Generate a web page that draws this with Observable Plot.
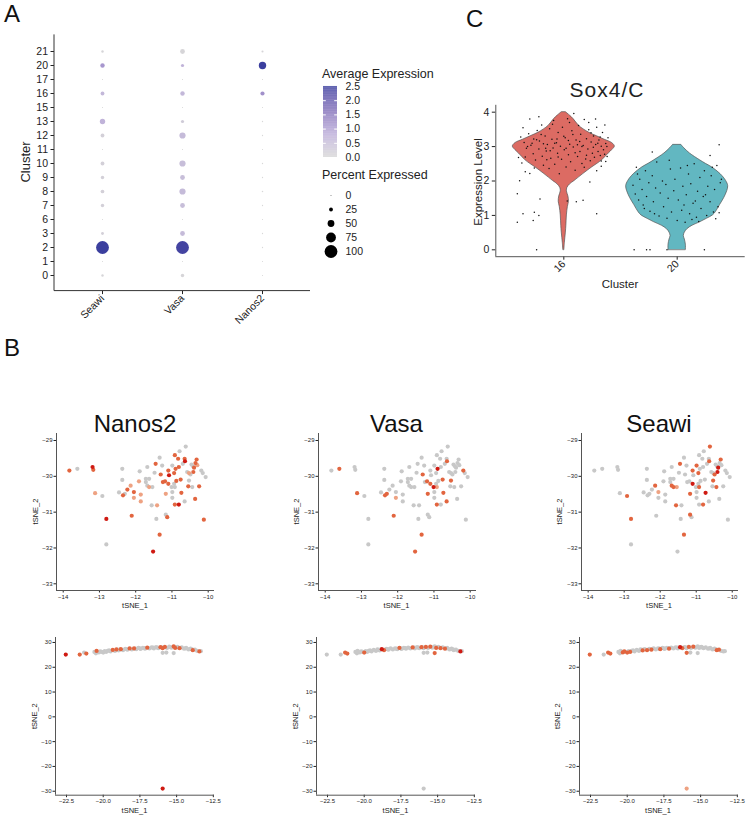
<!DOCTYPE html>
<html><head><meta charset="utf-8">
<script src="https://cdn.jsdelivr.net/npm/d3@7"></script>
<script src="https://cdn.jsdelivr.net/npm/@observablehq/plot@0.6"></script>
<style>
html,body{margin:0;padding:0;background:#fff;}
#fig{position:relative;width:747px;height:817px;overflow:hidden;background:#fff;font-family:"Liberation Sans",Arial,sans-serif;}
#fig svg{position:absolute;overflow:visible;}
</style></head><body><div id="fig"></div>
<script>
// ---------------- Panel A data (dot plot) ----------------
const genes = ["Seawi", "Vasa", "Nanos2"];
const clusters = ["21","20","17","16","15","13","12","11","10","9","8","7","6","3","2","1","0"];
const seawiPct  = [14,30,3,25,3,38,25,3,25,22,24,22,3,17,100,3,14];
const seawiAvg  = [0.05,1.1,0,0.6,0,0.7,0.15,0,0.15,0.15,0.15,0.15,0,0.15,2.5,0,0.05];
const vasaPct   = [33,20,3,30,3,20,45,3,45,33,45,33,3,33,100,3,22];
const vasaAvg   = [0.05,0.7,0,0.6,0,0.25,0.55,0,0.5,0.5,0.55,0.5,0,0.55,2.4,0,0.05];
const nanos2Pct = [11,55,3,28,3,5,4,3,5,4,6,4,3,4,4,3,3];
const nanos2Avg = [0.05,2.5,0,1.2,0,0,0,0,0,0,0,0,0,0,0,0,0];
const avgTicks = [0, 0.5, 1, 1.5, 2, 2.5];
const sizeBreaks = [0, 25, 50, 75, 100];

// ---------------- Panel C data (violin) ----------------
const clustersC = ["16", "20"];
// density profile: [level, relative half-width]
const violin16 = [[0,0.01],[0.2,0.02],[0.5,0.04],[0.7,0.05],[1.0,0.06],[1.25,0.08],[1.4,0.1],[1.55,0.09],[1.7,0.06],[1.8,0.07],[1.9,0.12],[2.0,0.21],[2.2,0.38],[2.4,0.56],[2.5,0.66],[2.6,0.75],[2.8,0.88],[2.9,0.95],[3.0,1.0],[3.1,0.95],[3.2,0.8],[3.3,0.65],[3.4,0.5],[3.5,0.39],[3.6,0.3],[3.8,0.19],[3.9,0.12],[4.0,0.04]];
const violin20 = [[0,0.17],[0.15,0.17],[0.3,0.15],[0.4,0.13],[0.5,0.15],[0.6,0.2],[0.7,0.3],[0.8,0.45],[0.9,0.58],[1.0,0.7],[1.1,0.76],[1.3,0.84],[1.5,0.92],[1.7,0.98],[1.85,1.0],[2.0,0.96],[2.2,0.85],[2.4,0.68],[2.5,0.56],[2.6,0.45],[2.8,0.25],[2.95,0.14],[3.05,0.08]];
// jittered cells: [offset from cluster centre, expression level]
const pts16 = [[-0.41,0.80],[-0.41,1.63],[-0.39,2.01],[-0.36,1.05],[-0.27,0.85],[-0.26,1.09],[-0.22,1.00],[-0.24,0.00],[-0.21,1.48],[0.03,1.42],[0.11,1.40],[0.17,1.44],[0.29,1.05],[0.23,1.97],[0.29,2.30],[-0.30,2.22],[-0.34,2.27],[-0.37,2.52],[-0.40,2.68],[0.33,2.43],[0.37,2.57],
[-0.38,3.28],[-0.35,3.12],[-0.33,2.95],[-0.31,3.37],[-0.29,3.04],[-0.27,2.79],[-0.265,3.22],[-0.25,2.61],[-0.235,3.47],[-0.22,2.93],[-0.215,3.16],[-0.19,2.72],[-0.195,3.63],[-0.18,2.46],[-0.165,3.31],[-0.155,2.87],[-0.145,3.06],[-0.13,2.36],[-0.125,3.52],[-0.115,2.66],[-0.105,3.21],[-0.095,2.96],[-0.09,3.76],[-0.08,2.49],[-0.065,3.11],[-0.055,2.81],[-0.05,3.41],[-0.04,2.21],[-0.03,3.01],[-0.02,2.63],[-0.012,3.56],[0.004,2.91],[0.012,3.26],[0.02,2.41],[0.033,3.81],[0.041,2.76],[0.052,3.07],[0.06,2.56],[0.071,3.46],[0.083,2.99],[0.088,3.96],[0.1,2.31],[0.108,3.19],[0.121,2.71],[0.13,3.61],[0.142,2.86],[0.149,3.36],[0.16,2.51],[0.171,3.03],[0.18,3.79],[0.193,2.64],[0.2,3.23],[0.212,2.93],[0.22,3.49],[0.233,2.59],[0.241,3.13],[0.252,2.81],[0.262,3.31],[0.27,2.69],[0.281,3.06],[0.29,3.56],[0.302,2.86],[0.31,3.19],[0.322,2.74],[0.33,3.01],[0.341,3.41],[0.35,2.91],[0.362,3.63],[0.37,3.09],[0.382,2.71],[0.39,3.26],
[-0.36,3.55],[-0.30,3.80],[-0.22,3.87],[-0.28,3.10],[-0.20,3.35],[-0.15,2.62],[-0.10,3.65],[-0.05,2.70],[0.00,3.30],[0.05,3.70],[0.12,3.05],[0.18,2.40],[0.22,3.70],[0.28,3.80],[0.33,2.58],[-0.34,2.70],[-0.26,2.38],[-0.18,3.08],[-0.12,2.88],[-0.06,3.22],[0.02,2.95],[0.08,3.35],[0.14,3.15],[0.20,2.75],[0.26,2.98],[0.32,3.28],[0.38,3.00],[-0.32,3.00],[-0.24,3.20],[-0.16,2.95],[-0.08,3.10],[0.04,3.18],[0.10,2.82],[0.16,3.00],[0.24,3.40],[0.30,3.10],[0.36,2.78]];
const pts20 = [[-0.39,1.88],[-0.37,1.62],[-0.36,2.40],[-0.34,1.45],[-0.33,2.05],[-0.31,1.75],[-0.30,1.30],[-0.28,2.30],[-0.27,1.55],[-0.25,1.95],[-0.24,1.12],[-0.22,2.15],[-0.21,1.40],[-0.19,1.80],[-0.18,2.55],[-0.16,0.98],[-0.15,1.65],[-0.13,2.00],[-0.12,1.25],[-0.10,1.90],[-0.09,0.92],[-0.08,1.50],[-0.06,2.35],[-0.05,1.10],[-0.03,1.72],[-0.02,2.05],[0.00,0.85],[0.01,1.45],[0.03,2.38],[0.04,1.15],[0.05,1.85],[0.07,0.80],[0.08,1.60],[0.10,2.20],[0.11,1.05],[0.12,1.92],[0.14,1.35],[0.15,2.50],[0.17,0.95],[0.18,1.70],[0.20,2.10],[0.21,1.20],[0.23,1.55],[0.24,2.30],[0.26,1.00],[0.27,1.85],[0.29,1.40],[0.30,2.15],[0.32,1.10],[0.33,1.75],[0.35,2.45],[0.36,1.25],[0.38,1.95],[0.39,2.05],[0.37,1.08],[0.34,0.90],[0.31,2.40],[0.29,2.74],[-0.22,2.84],[0.19,0.82],
[-0.38,0.00],[-0.27,0.00],[-0.24,0.00],[-0.09,0.00],[0.24,0.00],[0.37,3.05],[-0.35,2.20],[-0.20,1.05],[0.06,1.30],[0.13,0.88],[-0.07,2.60],[0.09,2.45],[0.25,1.60],[-0.29,1.20],[0.16,1.42]];

// ---------------- Panel B data (tSNE) ----------------
const tsneGenes = ["Nanos2", "Vasa", "Seawi"];
// [tSNE_1, tSNE_2, Nanos2 level, Vasa level, Seawi level]
const tsneTop = [
[-13.83,-29.84,2,0,0],[-13.61,-29.79,0,2,0],[-13.19,-29.74,3,0,0],[-13.17,-29.82,2,0,0],[-13.12,-30.47,1,2,0],[-12.92,-30.55,0,0,2],[-12.81,-31.19,3,0,2],[-12.81,-31.90,0,0,0],[-12.46,-30.45,0,0,0],[-12.37,-29.79,0,0,0],[-12.37,-30.10,0,0,0],[-12.35,-30.53,2,2,0],[-12.30,-30.49,0,2,0],[-12.23,-30.37,2,0,0],[-12.14,-30.26,1,0,2],[-12.05,-30.44,2,0,1],[-12.05,-30.60,1,1,0],[-12.11,-31.10,2,2,0],[-11.89,-29.86,0,0,0],[-11.91,-30.14,1,0,0],[-11.86,-30.51,1,0,0],[-11.86,-30.70,1,0,0],[-11.72,-30.07,0,0,0],[-11.68,-29.74,0,0,0],[-11.72,-30.16,0,0,0],[-11.68,-30.26,0,0,2],[-11.63,-30.07,0,0,0],[-11.63,-30.30,1,0,2],[-11.54,-30.30,0,0,1],[-11.56,-30.81,0,0,2],[-11.48,-29.90,0,0,0],[-11.45,-29.65,2,0,2],[-11.41,-30.81,1,0,0],[-11.43,-31.19,0,0,0],[-11.34,-29.48,0,0,0],[-11.31,-29.95,2,2,0],[-11.34,-31.63,2,2,2],[-11.52,-32.10,3,2,0],[-11.27,-29.70,0,0,0],[-11.25,-30.16,2,0,0],[-11.19,-30.14,2,2,0],[-11.17,-30.49,1,2,2],[-11.17,-31.07,0,0,2],[-11.13,-31.14,2,0,0],[-11.10,-29.84,2,0,2],[-11.10,-30.21,2,2,3],[-11.08,-29.97,3,0,0],[-11.01,-30.30,0,3,0],[-10.99,-29.70,0,0,2],[-10.99,-30.44,0,0,0],[-10.99,-30.60,0,0,0],[-10.94,-29.91,2,0,2],[-10.94,-30.21,0,0,0],[-10.92,-30.30,0,1,2],[-10.90,-29.79,2,3,0],[-10.92,-29.41,2,0,0],[-10.92,-30.79,2,2,0],[-10.88,-30.13,2,0,0],[-10.83,-29.51,2,0,0],[-10.81,-29.74,2,0,0],[-10.81,-30.79,3,0,2],[-10.79,-29.30,0,0,0],[-10.76,-30.09,2,2,0],[-10.74,-30.46,2,2,3],[-10.70,-29.65,0,0,0],[-10.65,-29.51,2,0,0],[-10.65,-30.70,0,2,0],[-10.64,-29.58,3,2,2],[-10.62,-29.17,0,0,2],[-10.58,-29.88,0,0,0],[-10.53,-29.91,1,0,0],[-10.53,-30.12,0,2,2],[-10.55,-30.28,2,0,0],[-10.49,-29.95,0,0,2],[-10.46,-29.67,0,0,0],[-10.42,-29.72,0,0,0],[-10.39,-29.76,2,0,3],[-10.44,-30.30,0,0,2],[-10.41,-29.88,2,0,3],[-10.36,-30.63,2,0,0],[-10.35,-29.63,2,0,0],[-10.32,-29.53,2,0,2],[-10.30,-29.69,1,0,0],[-10.25,-30.28,2,0,0],[-10.19,-29.84,0,2,0],[-10.15,-29.91,0,0,0],[-10.12,-31.21,2,0,0],[-10.07,-30.02,0,0,0]];
const tsneBottom = [
[-22.55,25.1,3,0,2],[-21.6,25.1,2,0,0],[-21.3,25.9,0,2,2],[-21.15,25.5,2,2,2],
[-20.6,26.2,0,0,0],[-20.5,25.6,0,0,0],[-20.45,26.6,2,0,0],[-20.4,26.1,0,0,0],[-20.3,26.0,0,0,2],[-20.2,26.4,0,0,2],[-20.1,26.2,0,0,0],[-20.0,25.9,0,2,2],[-19.9,26.5,0,0,0],[-19.8,26.2,0,0,2],[-19.7,26.6,0,0,0],[-19.6,26.8,0,0,0],[-19.5,26.4,0,0,0],[-19.35,27.0,2,0,0],[-19.2,26.6,0,0,0],[-19.1,27.2,2,0,0],[-19.0,27.0,0,0,0],[-18.95,26.8,0,0,2],[-18.9,27.1,0,0,0],[-18.8,27.3,2,3,0],[-18.65,26.9,0,2,2],[-18.5,27.4,0,0,0],[-18.4,27.3,0,0,0],[-18.35,27.1,0,0,2],[-18.2,27.6,2,0,0],[-18.05,27.2,0,0,0],[-17.9,27.6,2,0,0],[-17.8,27.5,0,0,0],[-17.75,27.3,0,0,2],[-17.6,27.8,0,2,0],[-17.5,27.6,0,0,0],[-17.45,27.4,0,0,0],[-17.3,27.8,0,0,0],[-17.2,27.7,0,0,0],[-17.15,27.5,0,0,2],[-17.0,27.9,2,0,0],[-16.85,27.6,0,0,0],[-16.7,28.0,0,2,0],[-16.6,27.9,0,0,0],[-16.55,27.6,0,0,0],[-16.4,28.1,0,0,3],[-16.3,27.9,0,0,0],[-16.25,27.7,0,0,2],[-16.1,28.1,2,2,0],[-16.0,28.0,0,0,0],[-15.95,27.7,2,0,0],[-15.95,25.8,0,0,2],[-15.7,25.9,0,0,0],[-15.8,28.2,2,2,2],[-15.65,27.8,0,0,0],[-15.5,28.3,0,2,2],[-15.4,28.1,0,0,0],[-15.35,27.9,0,0,0],[-15.2,28.4,2,0,0],[-15.1,27.8,2,2,0],[-15.2,25.7,0,2,0],[-15.0,28.1,0,0,0],[-14.95,28.2,0,0,0],[-14.9,28.0,0,0,0],[-14.8,27.7,2,2,0],[-14.65,28.0,0,0,0],[-14.5,27.5,0,2,0],[-14.4,27.6,0,0,0],[-14.35,27.8,0,0,0],[-14.2,27.2,0,0,0],[-14.1,27.3,0,0,0],[-14.05,27.5,0,0,0],[-13.95,27.2,0,0,0],[-13.9,26.9,2,0,2],[-13.75,27.1,0,0,2],[-13.6,26.6,0,0,0],[-13.45,26.4,2,3,0],[-13.35,26.5,0,0,0],
[-15.95,-28.95,3,0,1]];
const topXTicks = [-14, -13, -12, -11, -10];
const topYTicks = [-29, -30, -31, -32, -33];
const botXTicks = [-22.5, -20, -17.5, -15, -12.5];
const botYTicks = [30, 20, 10, 0, -10, -20, -30];

// ---------------- styles ----------------
const FONT = "Liberation Sans, Arial, sans-serif";
const fig = document.getElementById("fig");
function put(node, left, top) { node.style.left = left + "px"; node.style.top = top + "px"; fig.appendChild(node); return node; }
const baseStyle = (fs) => ({fontFamily: FONT, fontSize: fs, background: "transparent", color: "#222", overflow: "visible"});
const intFmt = d3.format("d");
const colorA = {type: "linear", domain: [0, 0.8, 1.6, 2.5], range: ["#d8d8d8", "#bcaed9", "#8573bb", "#3b3f9e"], interpolate: "lab"};
const rA = {type: "linear", domain: [0, 100], range: [0.4, 6.4]};
const tsneColor = {type: "ordinal", domain: [0, 1, 2, 3], range: ["#c8c8c8", "#eea282", "#e2653f", "#cf1a12"]};

// ---------------- Panel A ----------------
const pctA = [seawiPct, vasaPct, nanos2Pct], avgA = [seawiAvg, vasaAvg, nanos2Avg];
const rowsA = [];
genes.forEach((g, gi) => clusters.forEach((c, ci) => rowsA.push({gene: g, cluster: c, pct: pctA[gi][ci], avg: avgA[gi][ci]})));
const A = {w: 320, h: 345, ml: 54, mr: 10, mt: 34.4, mb: 54.4};
const plotA = Plot.plot({
  width: A.w, height: A.h, marginLeft: A.ml, marginRight: A.mr, marginTop: A.mt, marginBottom: A.mb,
  style: baseStyle("10.5px"),
  x: {type: "point", domain: genes, padding: 0.6, tickSize: 3.5, tickPadding: 2, tickRotate: -45, label: null},
  y: {type: "point", domain: clusters, padding: 0.6, tickSize: 3.5, tickPadding: 3, label: null},
  color: colorA, r: rA,
  marks: [Plot.dot(rowsA, {x: "gene", y: "cluster", r: "pct", fill: "avg"})]
});
put(plotA, 0, 0);
const sA = d3.select(plotA);
sA.append("line").attr("x1", A.ml).attr("x2", A.ml).attr("y1", A.mt).attr("y2", A.h - A.mb).attr("stroke", "#333").attr("stroke-width", 1);
sA.append("line").attr("x1", A.ml).attr("x2", A.w - A.mr).attr("y1", A.h - A.mb).attr("y2", A.h - A.mb).attr("stroke", "#333").attr("stroke-width", 1);

// colour bar legend
const steps = d3.range(0, 2.5, 0.025);
const plotAL = Plot.plot({
  width: 55, height: 85, marginLeft: 8, marginRight: 33, marginTop: 6, marginBottom: 8,
  style: baseStyle("10.5px"),
  x: {domain: [0, 1], axis: null},
  y: {domain: [0, 2.5], ticks: avgTicks, tickFormat: ".1f", tickSize: 0, tickPadding: 8, axis: "right", label: null},
  color: colorA,
  marks: [
    Plot.rect(steps, {x1: 0, x2: 1, y1: d => d, y2: d => d + 0.026, fill: d => d}),
    Plot.ruleY(avgTicks.slice(1, -1), {x1: 0, x2: 0.2, stroke: "white"}),
    Plot.ruleY(avgTicks.slice(1, -1), {x1: 0.8, x2: 1, stroke: "white"})
  ]
});
put(plotAL, 315, 80);
// size legend
const plotSL = Plot.plot({
  width: 60, height: 75, marginLeft: 8, marginRight: 37, marginTop: 10, marginBottom: 9,
  style: baseStyle("10.5px"),
  x: {domain: [0, 1], axis: null},
  y: {type: "point", domain: sizeBreaks, padding: 0, tickSize: 0, tickPadding: 7, axis: "right", label: null},
  r: rA,
  marks: [Plot.dot(sizeBreaks, {x: 0.5, y: d => d, r: d => d, fill: "black"})]
});
put(plotSL, 315, 185);

// ---------------- Panel C ----------------
const vRows = (prof, pos) => prof.map(([y, w]) => ({y, lo: pos - 0.45 * w, hi: pos + 0.45 * w}));
const C = {w: 287, h: 200, ml: 35.3, mr: 2.3, mt: 9.8, mb: 38.8};
const plotC = Plot.plot({
  width: C.w, height: C.h, marginLeft: C.ml, marginRight: C.mr, marginTop: C.mt, marginBottom: C.mb,
  style: baseStyle("10.5px"),
  x: {domain: [0.4, 2.6], ticks: [1, 2], tickFormat: d => clustersC[d - 1], tickRotate: -45, tickSize: 3.5, tickPadding: 2, label: null},
  y: {domain: [-0.2, 4.2], ticks: [0, 1, 2, 3, 4], tickFormat: intFmt, tickSize: 3.5, tickPadding: 3, label: null},
  marks: [
    Plot.areaX(vRows(violin16, 1), {y: "y", x1: "lo", x2: "hi", fill: "#dc6b63", stroke: "#555", strokeWidth: 0.7, curve: "catmull-rom"}),
    Plot.areaX(vRows(violin20, 2), {y: "y", x1: "lo", x2: "hi", fill: "#62b7c1", stroke: "#555", strokeWidth: 0.7, curve: "catmull-rom"}),
    Plot.dot(pts16, {x: d => 1 + d[0], y: d => d[1], r: 0.75, fill: "#111"}),
    Plot.dot(pts20, {x: d => 2 + d[0], y: d => d[1], r: 0.75, fill: "#111"}),
    Plot.ruleX([0.4], {stroke: "#555"}),
    Plot.ruleY([-0.2], {stroke: "#555"})
  ]
});
put(plotC, 460, 95);

// ---------------- Panel B ----------------
function tsnePlot(rows, gi, xdom, ydom, xt, yt, xfmt, f) {
  const data = rows.map(r => ({x: r[0], y: r[1], v: r[2 + gi]})).sort((a, b) => a.v - b.v);
  const p = Plot.plot({
    width: f.w + 38, height: f.h + 25, marginLeft: 30, marginRight: 8, marginTop: 5, marginBottom: 20,
    style: baseStyle("6px"),
    x: {domain: xdom, ticks: xt, tickFormat: xfmt, tickSize: 2.5, tickPadding: 1.5, label: null},
    y: {domain: ydom, ticks: yt, tickFormat: intFmt, tickSize: 2.5, tickPadding: 1.5, label: null},
    color: tsneColor,
    marks: [
      Plot.ruleX([xdom[0]], {stroke: "#555"}),
      Plot.ruleY([ydom[0]], {stroke: "#555"}),
      Plot.dot(data, {x: "x", y: "y", r: 2.1, fill: "v"})
    ]
  });
  put(p, f.l - 30, f.t - 5);
}
const topFrames = [{l: 56, t: 433, w: 158, h: 157}, {l: 317.5, t: 433, w: 158, h: 157}, {l: 580.5, t: 433, w: 157, h: 157}];
const botFrames = [{l: 55, t: 637.3, w: 159, h: 157.7}, {l: 316, t: 637.3, w: 159, h: 157.7}, {l: 578.5, t: 637.3, w: 159, h: 157.7}];
tsneGenes.forEach((g, gi) => {
  tsnePlot(tsneTop, gi, [-14.185, -9.826], [-33.187, -28.805], topXTicks, topYTicks, intFmt, topFrames[gi]);
  tsnePlot(tsneBottom, gi, [-23.25, -12.42], [-31.6, 32.0], botXTicks, botYTicks, d3.format(".1f"), botFrames[gi]);
});

// ---------------- text overlay ----------------
const ov = d3.select(fig).append("svg").attr("width", 747).attr("height", 817)
  .style("left", "0px").style("top", "0px").style("pointer-events", "none").attr("font-family", FONT);
function label(str, x, y, size, o = {}) {
  const t = ov.append("text").attr("x", x).attr("y", y).attr("font-size", size)
    .attr("text-anchor", o.anchor || "start").attr("fill", o.fill || "#222").text(str);
  if (o.ls) t.attr("letter-spacing", o.ls);
  if (o.rotate) t.attr("transform", `rotate(${o.rotate},${x},${y})`);
}
function ylabel(str, cx, cy, size) { label(str, cx + 0.35 * size, cy, size, {anchor: "middle", rotate: -90}); }
label("A", 4, 22, 24, {fill: "#111"});
label("B", 4, 356, 24, {fill: "#111"});
label("C", 466, 27, 24, {fill: "#111"});
ylabel("Cluster", 25, 162, 13);
label("Average Expression", 322, 78, 12.5);
label("Percent Expressed", 322, 179, 12.5);
label("Sox4/C", 607, 97, 21, {anchor: "middle", ls: 1});
ylabel("Expression Level", 478, 182, 11.5);
label("Cluster", 620, 288, 11.5, {anchor: "middle"});
tsneGenes.forEach((g, gi) => {
  const f = topFrames[gi], b = botFrames[gi];
  label(g, f.l + f.w / 2, 432, 24, {anchor: "middle", fill: "#111"});
  label("tSNE_1", f.l + f.w / 2, 608, 7.5, {anchor: "middle"});
  ylabel("tSNE_2", f.l - 21, f.t + f.h / 2, 7.5);
  label("tSNE_1", b.l + b.w / 2, 813, 7.5, {anchor: "middle"});
  ylabel("tSNE_2", b.l - 21, b.t + b.h / 2, 7.5);
});
</script></body></html>
